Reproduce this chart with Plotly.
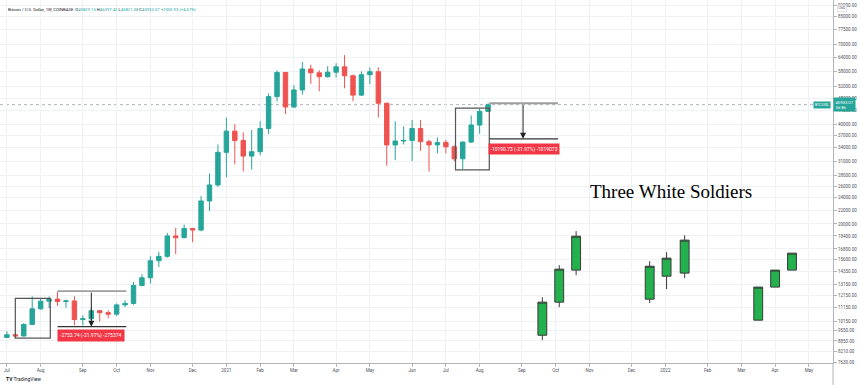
import numpy as np
import pandas as pd
import plotly.graph_objects as go

# ---------------- data ----------------
week_dates = pd.date_range("2020-07-06", periods=58, freq="7D")

btc_open = [9070, 9240, 9160, 9930, 11070, 11680, 11850, 11650, 11700, 10280,
            10330, 10930, 10780, 10670, 11380, 11500, 13030, 13750, 15480, 15960,
            18400, 18180, 19380, 19170, 23480, 26250, 32950, 38200, 35800, 32100,
            33100, 38900, 48600, 57500, 45200, 50900, 58900, 57350, 55800, 57600,
            59800, 56200, 49100, 56600, 57800, 46400, 34700, 35650, 35800, 38900,
            35500, 34700, 35300, 34250, 31500, 35400, 39850, 43829.15]
btc_high = [9470, 9350, 10020, 12080, 11900, 12080, 12470, 11800, 12090, 10580,
            11180, 10990, 10950, 11490, 11740, 13350, 14100, 15970, 16480, 18800,
            19480, 19920, 19420, 24300, 28400, 34800, 41950, 40100, 37850, 38500,
            40950, 49700, 58350, 57500, 52650, 61800, 60700, 58450, 60100, 61300,
            64900, 56600, 57900, 59500, 59600, 46650, 40900, 39500, 41300, 41300,
            36000, 36600, 35950, 34600, 35500, 42600, 44700, 46397.42]
btc_low = [9050, 9010, 9130, 9920, 11000, 11130, 11300, 11150, 9880, 9880,
           10200, 10130, 10370, 10530, 11200, 11400, 12950, 13200, 14800, 15800,
           16200, 18100, 17600, 19000, 21900, 25900, 27700, 30300, 28850, 29250,
           32300, 37400, 47000, 43000, 44900, 49300, 53100, 50400, 55500, 55500,
           51500, 47000, 48800, 53000, 42000, 30000, 31200, 34800, 31000, 33300,
           28800, 32700, 32700, 31000, 29300, 35200, 37500, 43821.38]
btc_close = [9240, 9160, 9930, 11070, 11680, 11850, 11650, 11700, 10280, 10330,
             10930, 10780, 10670, 11380, 11500, 13030, 13750, 15480, 15960, 18400,
             18180, 19380, 19170, 23480, 26250, 32950, 38200, 35800, 32100, 33100,
             38900, 48600, 57500, 45200, 50900, 58900, 57350, 55800, 57600, 59800,
             56200, 49100, 56600, 57800, 46400, 34700, 35650, 35800, 38900, 35500,
             34700, 35300, 34250, 31500, 35400, 39850, 43829.15, 45933.07]

# "Three White Soldiers" illustration candles
pattern_dates = ["2021-09-23", "2021-10-07", "2021-10-21",
                 "2021-12-21", "2022-01-04", "2022-01-19",
                 "2022-03-21", "2022-04-04", "2022-04-18"]
pattern_open = [9210, 11600, 14500, 11840, 13900, 14200, 10230, 12880, 14500]
pattern_high = [12010, 15010, 19030, 15430, 16430, 18500, 12880, 14500, 16320]
pattern_low = [8900, 11200, 14000, 11520, 12700, 13710, 10230, 12880, 14500]
pattern_close = [11600, 14600, 18370, 14900, 15760, 17870, 12880, 14500, 16320]

# axis ticks
price_ticks = [92000, 85000, 77500, 70000, 64000, 58000, 52000, 48000, 44000, 40000,
               37000, 34000, 31000, 28000, 26000, 24000, 22000, 20000, 18400, 16800,
               15600, 14350, 13150, 12150, 11150, 10150, 9550, 8850, 8210, 7630]
month_ticks = ["2020-07-06", "2020-08-03", "2020-09-07", "2020-10-05", "2020-11-02",
               "2020-12-07", "2021-01-04", "2021-02-01", "2021-03-01", "2021-04-05",
               "2021-05-03", "2021-06-07", "2021-07-05", "2021-08-02", "2021-09-06",
               "2021-10-04", "2021-11-01", "2021-12-06", "2022-01-03", "2022-02-07",
               "2022-03-07", "2022-04-04", "2022-05-02"]
month_labels = ["Jul", "Aug", "Sep", "Oct", "Nov", "Dec", "2021", "Feb", "Mar", "Apr",
                "May", "Jun", "Jul", "Aug", "Sep", "Oct", "Nov", "Dec", "2022", "Feb",
                "Mar", "Apr", "May"]

last_price = 45933.07
drop1_top, drop1_bottom = 12534, 9780
drop2_top, drop2_bottom = 46385, 36194
box1 = dict(x0="2020-07-13", x1="2020-08-11", y0=9030, y1=11900)
box2 = dict(x0="2021-07-13", x1="2021-08-10", y0=29140, y1=44870)

UP = "#26a69a"
DOWN = "#ef5350"
GRID = "#eef1f6"
AX = "#b2b5be"
TXT = "#50535e"
FONT = "Roboto"

fig = go.Figure()

fig.add_trace(go.Candlestick(
    x=week_dates, open=btc_open, high=btc_high, low=btc_low, close=btc_close,
    increasing=dict(line=dict(color=UP, width=1), fillcolor=UP),
    decreasing=dict(line=dict(color=DOWN, width=1), fillcolor=DOWN),
    whiskerwidth=0, showlegend=False, hoverinfo="skip",
))

fig.add_trace(go.Candlestick(
    x=pattern_dates, open=pattern_open, high=pattern_high, low=pattern_low,
    close=pattern_close, xaxis="x2", yaxis="y",
    increasing=dict(line=dict(color="#3a3a3a", width=1), fillcolor="#22b14c"),
    decreasing=dict(line=dict(color="#3a3a3a", width=1), fillcolor="#22b14c"),
    whiskerwidth=0, showlegend=False, hoverinfo="skip",
))

x_range = ["2020-06-30 07:00", "2022-05-22"]
y_range = [np.log10(7590), np.log10(95270)]

shapes = []
# white panel behind the pasted illustration
shapes.append(dict(type="rect", xref="paper", yref="paper", x0=0.614, x1=1.0,
                   y0=0, y1=1 - 174 / 363, fillcolor="white", line=dict(width=0),
                   layer="between"))
# current price line
shapes.append(dict(type="line", xref="paper", yref="y", x0=0, x1=1,
                   y0=last_price, y1=last_price,
                   line=dict(color="#9aa0a8", width=0.8, dash="dot"), layer="between"))
# boxes around patterns
for b in (box1, box2):
    shapes.append(dict(type="rect", xref="x", yref="y", x0=b["x0"], x1=b["x1"],
                       y0=b["y0"], y1=b["y1"], line=dict(color="#555555", width=1.2),
                       fillcolor="rgba(0,0,0,0)", layer="above"))
# measurement lines
shapes += [
    dict(type="line", xref="x", yref="y", x0="2020-08-17", x1="2020-10-13",
         y0=drop1_top, y1=drop1_top, line=dict(color="#9e9e9e", width=1.8)),
    dict(type="line", xref="x", yref="y", x0="2020-08-17", x1="2020-10-13",
         y0=drop1_bottom, y1=drop1_bottom, line=dict(color="#333333", width=1.2)),
    dict(type="line", xref="x", yref="y", x0="2021-08-10", x1="2021-10-06",
         y0=drop2_top, y1=drop2_top, line=dict(color="#9e9e9e", width=1.8)),
    dict(type="line", xref="x", yref="y", x0="2021-08-10", x1="2021-10-06",
         y0=drop2_bottom, y1=drop2_bottom, line=dict(color="#333333", width=1.2)),
    # right axis line extension
    dict(type="line", xref="paper", yref="paper", x0=1, x1=1, y0=-0.065, y1=0,
         line=dict(color=AX, width=1)),
]

annotations = []
# arrows
for xd, top, bot in (("2020-09-14", drop1_top, drop1_bottom),
                     ("2021-09-07", drop2_top, drop2_bottom)):
    annotations.append(dict(x=xd, y=np.log10(bot), ax=xd, ay=np.log10(top),
                            xref="x", yref="y", axref="x", ayref="y", text="",
                            showarrow=True, arrowhead=2, arrowsize=1.2,
                            arrowwidth=1, arrowcolor="#222222"))
# red measurement labels
annotations.append(dict(x="2020-09-14", y=np.log10(9181), xref="x", yref="y",
                        xanchor="center", yanchor="middle",
                        text="-2753.74 (-21.97%) -275374", showarrow=False,
                        bgcolor="#f23645", borderpad=2,
                        font=dict(family=FONT, size=5, color="white")))
annotations.append(dict(x="2021-09-08", y=np.log10(33820), xref="x", yref="y",
                        xanchor="center", yanchor="middle",
                        text="-10190.73 (-21.97%) -1019073", showarrow=False,
                        bgcolor="#f23645", borderpad=1.5,
                        font=dict(family=FONT, size=5, color="white")))
# illustration title
annotations.append(dict(x=671 / 833, y=1 - 191 / 363, xref="paper", yref="paper",
                        xanchor="center", yanchor="middle",
                        text="Three White Soldiers", showarrow=False,
                        font=dict(family="Liberation Serif", size=19, color="black")))
# header
hdr = ("Bitcoin / U.S. Dollar, 1W, COINBASE&nbsp;&nbsp;"
       "O<span style='color:#26a69a'>43829.15</span> "
       "H<span style='color:#26a69a'>46397.42</span> "
       "L<span style='color:#26a69a'>43821.38</span> "
       "C<span style='color:#26a69a'>45933.07</span> "
       "<span style='color:#26a69a'>+2003.93 (+4.57%)</span>")
annotations.append(dict(x=6 / 833, y=1 - 9 / 363, xref="paper", yref="paper",
                        xanchor="left", yanchor="middle", text=hdr, showarrow=False,
                        font=dict(family=FONT, size=4.2, color="#131722")))
# price label on axis
annotations.append(dict(x=1.0, y=np.log10(last_price), xref="paper", yref="y",
                        xanchor="left", yanchor="middle",
                        text="45933.07<br>3d 8h", showarrow=False, bgcolor=UP,
                        borderpad=1.5, align="left",
                        font=dict(family=FONT, size=4.2, color="white")))
annotations.append(dict(x=831 / 833, y=np.log10(last_price), xref="paper", yref="y",
                        xanchor="right", yanchor="middle", text="BTCUSD",
                        showarrow=False, bgcolor=UP, borderpad=1,
                        font=dict(family=FONT, size=3.6, color="white")))
annotations.append(dict(x=1 + 9 / 833, y=1 - 8 / 363, xref="paper", yref="paper",
                        xanchor="center", yanchor="middle", text="USD",
                        showarrow=False, bgcolor="white", bordercolor="#d1d4dc",
                        borderwidth=0.6, borderpad=0.8,
                        font=dict(family=FONT, size=3.6, color=TXT)))
# TradingView logo text
annotations.append(dict(x=4 / 833, y=-16 / 363, xref="paper", yref="paper",
                        xanchor="left", yanchor="middle",
                        text="<b>TV</b> TradingView", showarrow=False,
                        font=dict(family=FONT, size=5, color="#131722")))

fig.update_layout(
    template="none",
    width=860, height=385,
    margin=dict(l=0, r=27, t=0, b=22, autoexpand=False),
    paper_bgcolor="white", plot_bgcolor="white",
    showlegend=False,
    boxgap=0.25,
    font=dict(family=FONT, color=TXT),
    xaxis=dict(type="date", range=x_range, tickvals=month_ticks, ticktext=month_labels,
               showgrid=True, gridcolor=GRID, gridwidth=1, zeroline=False,
               showline=True, linecolor=AX, linewidth=1, ticks="outside",
               ticklen=3, tickcolor=AX, tickfont=dict(size=4.5, color=TXT),
               automargin=False, rangeslider=dict(visible=False), fixedrange=True),
    xaxis2=dict(type="date", range=x_range, overlaying="x", visible=False,
                automargin=False, rangeslider=dict(visible=False)),
    yaxis=dict(type="log", range=y_range, side="right", tickvals=price_ticks,
               ticktext=[f"{v:.2f}" for v in price_ticks], automargin=False,
               showgrid=True, gridcolor=GRID, gridwidth=1, zeroline=False,
               showline=True, linecolor=AX, linewidth=1, ticks="outside",
               ticklen=3, tickcolor=AX, tickfont=dict(size=4.5, color=TXT)),
    shapes=shapes,
    annotations=annotations,
)

fig.write_html(
    "out.html",
    config={"displayModeBar": False},
    post_script="document.body.style.margin='0px';document.body.style.overflow='hidden';",
)
